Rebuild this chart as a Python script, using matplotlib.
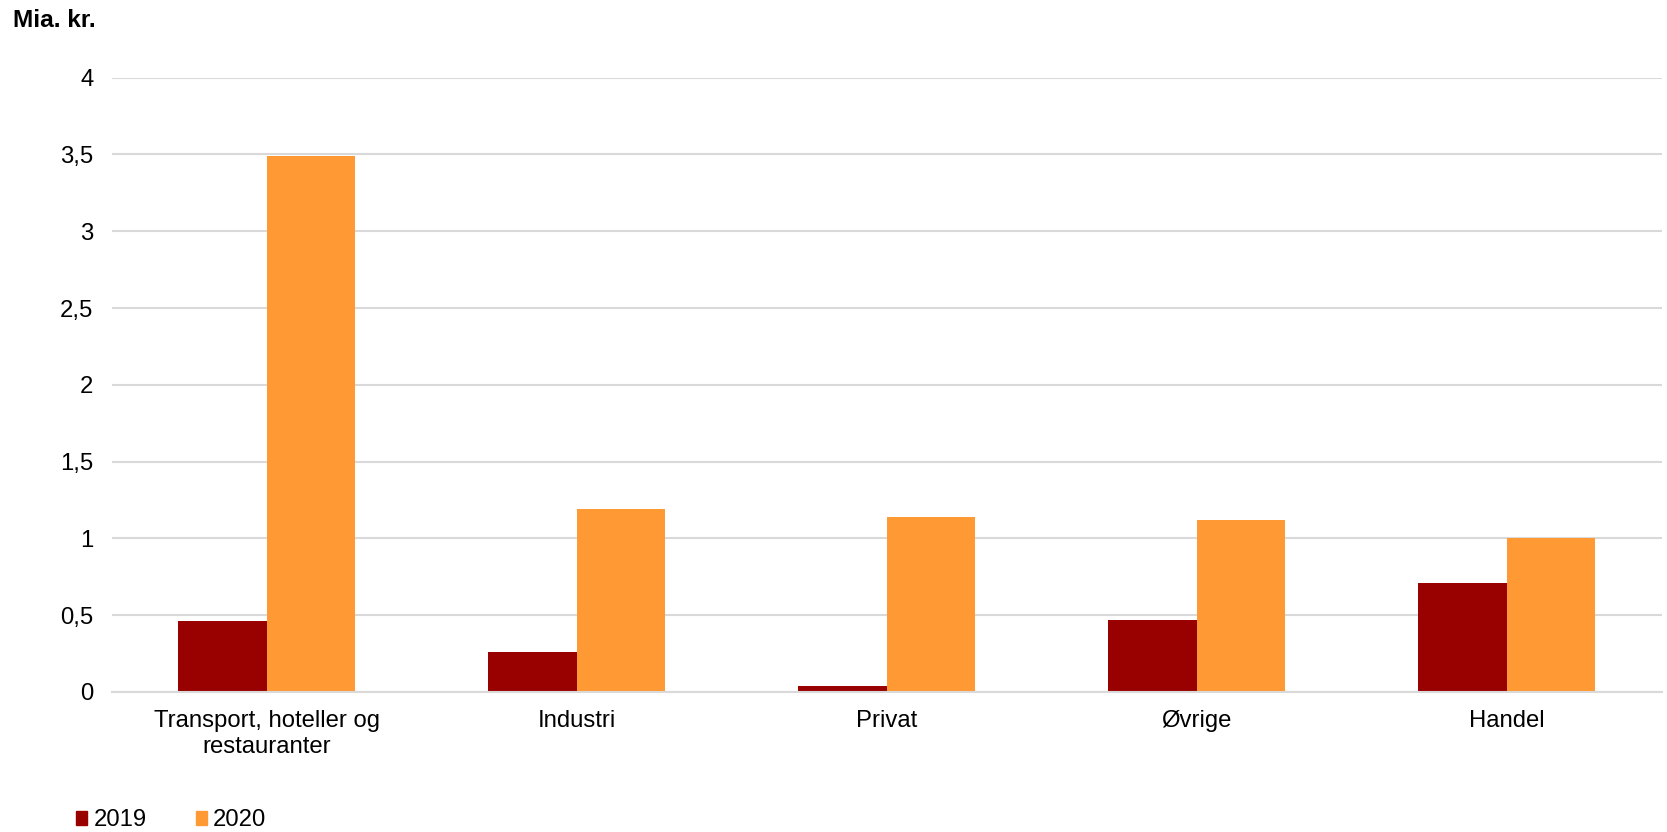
import matplotlib
matplotlib.use("Agg")
import matplotlib.pyplot as plt
from matplotlib.patches import Patch
import numpy as np

plt.rcParams['font.family'] = ['Liberation Sans', 'DejaVu Sans']

categories = ["Transport, hoteller og\nrestauranter", "Industri", "Privat", "Øvrige", "Handel"]
series_names = ["2019", "2020"]
values_2019 = [0.46, 0.26, 0.04, 0.47, 0.71]
values_2020 = [3.49, 1.19, 1.14, 1.12, 1.00]
ytick_values = [0, 0.5, 1, 1.5, 2, 2.5, 3, 3.5, 4]
ytick_labels = ["0", "0,5", "1", "1,5", "2", "2,5", "3", "3,5", "4"]

c2019 = "#990000"
c2020 = "#FF9933"
grid_c = "#D9D9D9"
fs = 17.2

W, H = 1667, 832
fig = plt.figure(figsize=(W / 100, H / 100), dpi=100)
ax = fig.add_axes([111.6 / W, 1 - 692 / H, (1661.6 - 111.6) / W, (692 - 77.6) / H])

x = np.arange(len(categories))
bw = 0.286
ax.bar(x - bw / 2, values_2019, bw, color=c2019, zorder=3)
ax.bar(x + bw / 2, values_2020, bw, color=c2020, zorder=3)

ax.set_xlim(-0.5, len(categories) - 0.5)
ax.set_ylim(0, 4)
ax.set_yticks(ytick_values)
ax.set_yticklabels(ytick_labels, fontsize=fs)
ax.set_xticks(x)
ax.set_xticklabels(categories, fontsize=fs, linespacing=1.22)
ax.tick_params(axis='y', length=0, pad=13)
ax.tick_params(axis='x', length=0, pad=13)

ax.grid(axis='y', color=grid_c, linewidth=1.5, zorder=0)
for s in ["top", "right", "left"]:
    ax.spines[s].set_visible(False)
ax.spines["bottom"].set_color(grid_c)
ax.spines["bottom"].set_linewidth(1.5)
ax.spines["bottom"].set_zorder(4)

fig.text(12.5 / W, 1 - 27 / H, "Mia. kr.", fontsize=17.6, fontweight="bold",
         ha="left", va="baseline")

handles = [Patch(color=c2019, label=series_names[0]),
           Patch(color=c2020, label=series_names[1])]
fig.legend(handles=handles, loc="lower left", bbox_to_anchor=(76 / W, 0.5 / H),
           ncol=2, frameon=False, fontsize=fs, borderpad=0, borderaxespad=0,
           handlelength=0.48, handleheight=0.56, handletextpad=0.25,
           columnspacing=2.05)

fig.savefig("out.png", dpi=100)
